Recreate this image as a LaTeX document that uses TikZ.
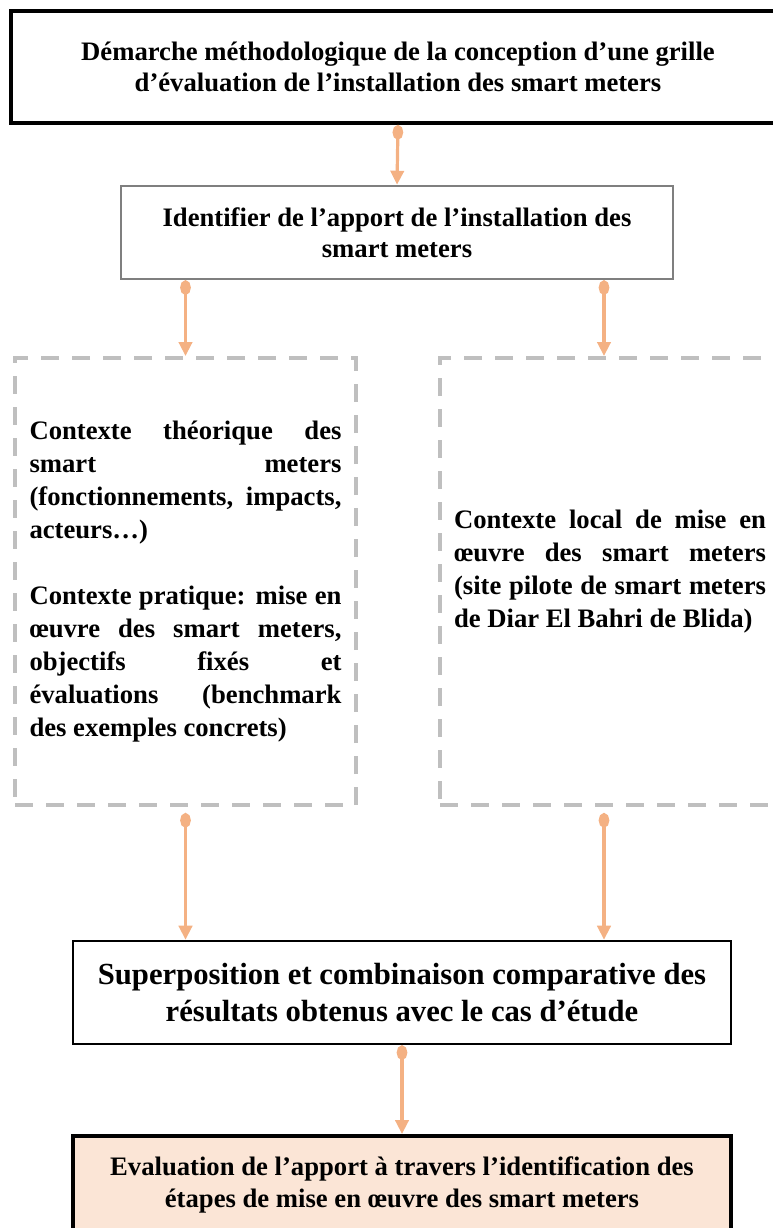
\documentclass[tikz,border=0pt]{standalone}
\usepackage{fontspec}
\setmainfont{Liberation Serif}
\usepackage{xcolor}
\usepackage{tikz}
\usetikzlibrary{arrows.meta}
\definecolor{arrc}{HTML}{F4B183}
\definecolor{dashc}{HTML}{BFBFBF}
\definecolor{idc}{HTML}{7F7F7F}
\definecolor{peach}{HTML}{FBE5D6}
\tikzset{
  ar/.style={{Ellipse[length=11pt,width=8pt]}-{Triangle[length=10.5pt,width=10pt]},line width=2.4pt,arrc},
  box/.style={draw,align=center,inner sep=0pt,font={\fontsize{20pt}{23.25pt}\selectfont\bfseries}},
  dbox/.style={draw=dashc,line width=3pt,dash pattern=on 13.5pt off 9.75pt,text width=234pt,align=justify,
    inner sep=0pt,minimum height=335.25pt,font={\fontsize{20pt}{24.75pt}\selectfont\bfseries\tolerance=10000\hbadness=10000}}
}
\begin{document}
\begin{tikzpicture}[x=0.75pt,y=-0.75pt]
\useasboundingbox (0,0) rectangle (773,1228);
\clip (0,0) rectangle (773,1228);
\node[box,line width=3pt,minimum width=580.5pt,minimum height=84pt] (top) at (398,67)
  {Démarche méthodologique de la conception d’une grille\\d’évaluation de l’installation des smart meters};
\node[box,draw=idc,line width=1.9pt,minimum width=414pt,minimum height=69.75pt] (ident) at (397,232.5)
  {Identifier de l’apport de l’installation des\\smart meters};
\node[dbox,minimum width=255.75pt] (theo) at (185.5,581.5)
  {Contexte théorique des\linebreak smart meters\linebreak (fonctionnements, impacts,\linebreak acteurs…)\par
   \vspace{\baselineskip}Contexte pratique: mise en\linebreak œuvre des smart meters,\linebreak objectifs fixés et\linebreak
   évaluations (benchmark\linebreak des exemples concrets)};
\node[dbox,minimum width=255pt] (local) at (610,581.5)
  {Contexte local de mise en\linebreak œuvre des smart meters\linebreak (site pilote de smart meters\linebreak de Diar El Bahri de Blida)\par
   \kern15pt};
\node[box,line width=1.9pt,minimum width=493.5pt,minimum height=77.25pt,font={\fontsize{23pt}{27.75pt}\selectfont\bfseries}] (sup) at (402,992.5)
  {Superposition et combinaison comparative des\\résultats obtenus avec le cas d’étude};
\node[box,fill=peach,line width=3pt,minimum width=493.5pt,minimum height=73.5pt,font={\fontsize{20pt}{24pt}\selectfont\bfseries}] (eval) at (402,1185)
  {Evaluation de l’apport à travers l’identification des\\étapes de mise en œuvre des smart meters};
% connectors
\draw[ar] (top.south) -- (ident.north);
\draw[ar] (ident.south -| theo.north) -- (theo.north);
\draw[ar] (ident.south -| 604,0) -- (local.north -| 604,0);
\draw[ar] (theo.south) ++(0,6) -- (sup.north -| theo.south);
\draw[ar] (local.south -| 604,0) ++(0,6) -- (sup.north -| 604,0);
\draw[ar] (sup.south) -- (eval.north);
\end{tikzpicture}
\end{document}
